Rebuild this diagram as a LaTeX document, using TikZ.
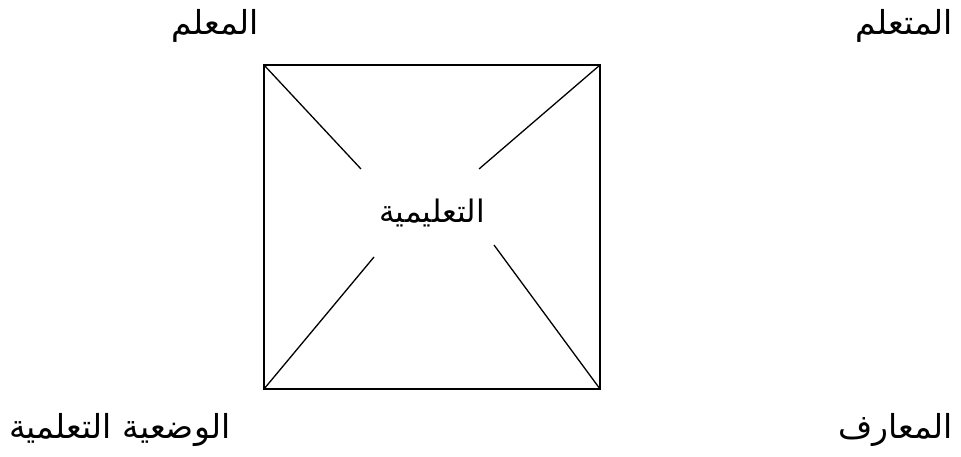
\documentclass[tikz,border=0pt]{standalone}
\usepackage{fontspec}
\newfontfamily\arabicfont[Script=Arabic]{DejaVu Sans}
\TeXXeTstate=1
\begin{document}
\begin{tikzpicture}[x=1pt,y=-1pt,
  lbl/.style={font=\arabicfont\fontsize{33}{38}\selectfont, inner sep=0pt},
  ctr/.style={font=\arabicfont\fontsize{31}{36}\selectfont, inner sep=0pt},
  edge/.style={line width=1.3pt, black}]
\useasboundingbox (0,0) rectangle (961,457);
\coordinate (tl) at (264,65);
\coordinate (tr) at (600,65);
\coordinate (bl) at (264,389);
\coordinate (br) at (600,389);
\draw[edge] (tl) -- (tr) -- (br) -- (bl) -- cycle;
\coordinate (a1) at (361,169);
\coordinate (a2) at (479,169);
\coordinate (a3) at (374,257);
\coordinate (a4) at (494,245);
\draw[edge] (tl) -- (a1);
\draw[edge] (tr) -- (a2);
\draw[edge] (bl) -- (a3);
\draw[edge] (br) -- (a4);
\node[ctr] (c) at (432,213) {\beginR التعليمية\endR};
\node[lbl, anchor=east] (t1) at (259,26) {\beginR المعلم\endR};
\node[lbl, anchor=east] (t2) at (953,26) {\beginR المتعلم\endR};
\node[lbl, anchor=west] (b1) at (9,430) {\beginR الوضعية التعلمية\endR};
\node[lbl, anchor=east] (b2) at (953,430) {\beginR المعارف\endR};
\end{tikzpicture}
\end{document}
